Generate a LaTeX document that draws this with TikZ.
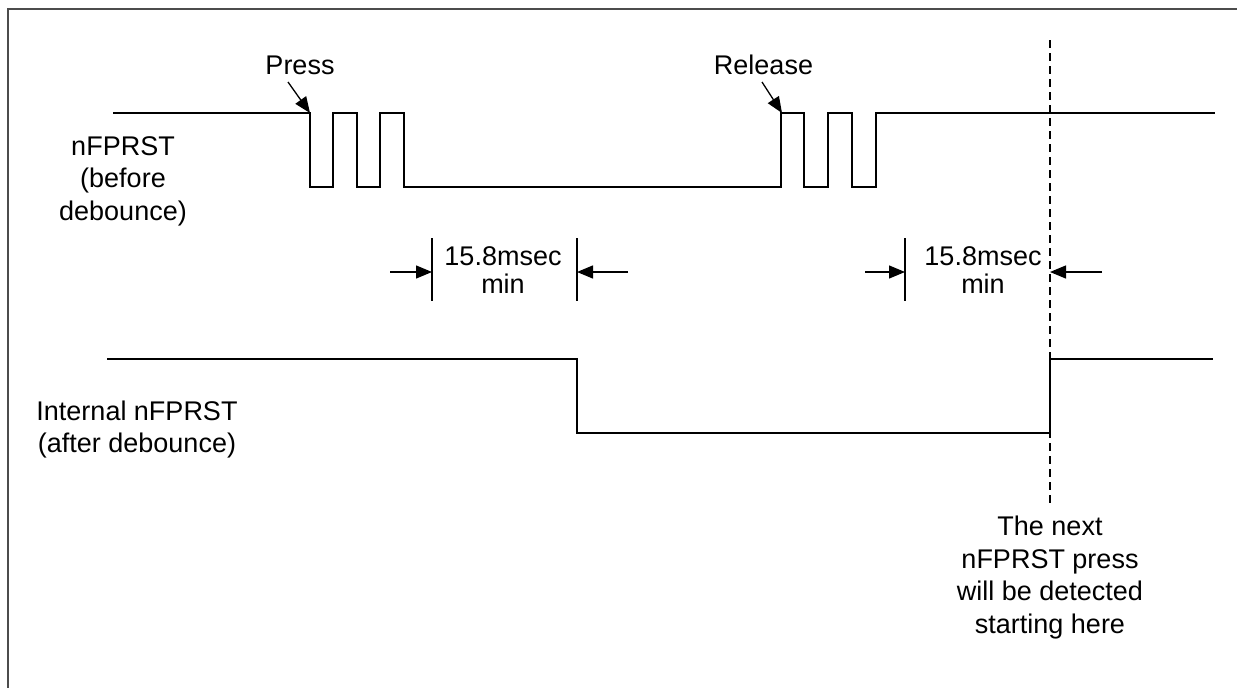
\documentclass[tikz,border=0pt]{standalone}
\usepackage{fontspec}
\setmainfont{Liberation Sans}
\usetikzlibrary{arrows.meta}
\tikzset{
  sig/.style={line width=1.4pt, black},
  lbl/.style={align=center, inner sep=0pt, font=\fontsize{27}{32.5}\selectfont},
  dimlbl/.style={align=center, inner sep=0pt, font=\fontsize{27}{28}\selectfont},
  arr/.style={line width=1.3pt, -{Triangle[length=16pt,width=13pt]}},
  tick/.style={line width=1.3pt},
  frame/.style={line width=2.2pt, black!70},
}
\begin{document}
\begin{tikzpicture}[x=1pt,y=-1pt]
\useasboundingbox (0,0) rectangle (1237,688);
% frame (only top and left visible)
\draw[frame] (8,1237) -- (8,9) -- (1237,9);
% signal 1: nFPRST before debounce
\draw[sig] (113,113) -- (310,113) -- (310,187) -- (333,187) -- (333,113) -- (357,113) -- (357,187)
  -- (380,187) -- (380,113) -- (404,113) -- (404,187) -- (781,187) -- (781,113) -- (804,113)
  -- (804,187) -- (828,187) -- (828,113) -- (852,113) -- (852,187) -- (876,187) -- (876,113) -- (1215,113);
% signal 2: internal nFPRST after debounce
\draw[sig] (107,359) -- (577,359) -- (577,433) -- (1050,433) -- (1050,359) -- (1213,359);
% dashed marker
\draw[line width=1.1pt, dash pattern=on 8pt off 5pt] (1050,40) -- (1050,503);
% labels
\node[lbl] (lab1) at (123,181) {nFPRST\\(before\\debounce)};
\node[lbl] (lab2) at (137,429.5) {Internal nFPRST\\(after debounce)};
\node[lbl] (note) at (1050,577.5) {The next\\nFPRST press\\will be detected\\starting here};
\node[lbl] (press) at (300,65) {Press};
\node[lbl] (release) at (763.5,65) {Release};
% press / release arrows
\coordinate (pA) at (288,82); \coordinate (pB) at (310,113);
\coordinate (rA) at (762,82); \coordinate (rB) at (782,113);
\draw[arr] (pA) -- (pB);
\draw[arr] (rA) -- (rB);
% dimension 1
\coordinate (d1a) at (432,238); \coordinate (d1b) at (432,301);
\coordinate (d1c) at (577,238); \coordinate (d1d) at (577,301);
\draw[tick] (d1a) -- (d1b);
\draw[tick] (d1c) -- (d1d);
\coordinate (d1l) at (390,272); \coordinate (d1lt) at (432,272);
\coordinate (d1r) at (628,272); \coordinate (d1rt) at (577,272);
\draw[arr] (d1l) -- (d1lt);
\draw[arr] (d1r) -- (d1rt);
\node[dimlbl] (dim1) at (503,270) {15.8msec\\min};
% dimension 2
\coordinate (d2a) at (905,238); \coordinate (d2b) at (905,301);
\draw[tick] (d2a) -- (d2b);
\coordinate (d2l) at (865,272); \coordinate (d2lt) at (905,272);
\coordinate (d2r) at (1102,272); \coordinate (d2rt) at (1050,272);
\draw[arr] (d2l) -- (d2lt);
\draw[arr] (d2r) -- (d2rt);
\node[dimlbl] (dim2) at (983,270) {15.8msec\\min};
\end{tikzpicture}
\end{document}
